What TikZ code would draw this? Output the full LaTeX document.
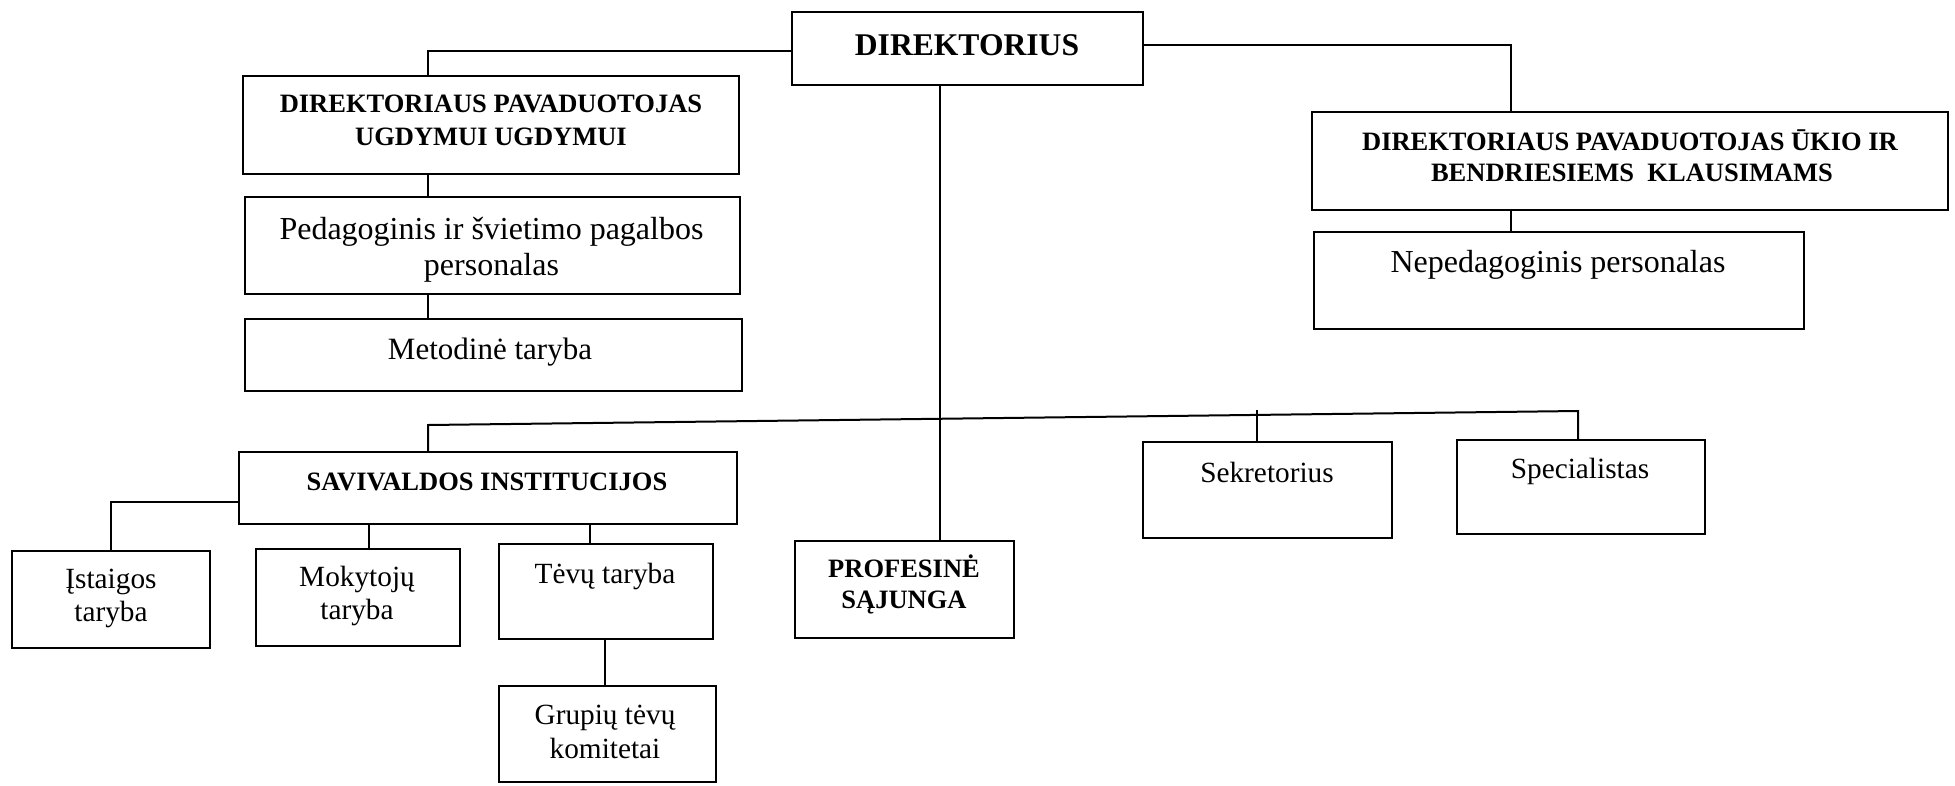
\documentclass[tikz,border=0pt]{standalone}
\usepackage{fontspec}
\setmainfont{Liberation Serif}
\tikzset{
  box/.style={draw, line width=2.2pt, inner sep=0pt, fill=none},
  link/.style={line width=2pt},
  bt/.style={anchor=base, inner sep=0pt, font=\fontsize{26.5pt}{30pt}\selectfont\bfseries},
  bigb/.style={anchor=base, inner sep=0pt, font=\fontsize{31.6pt}{36pt}\selectfont\bfseries},
  rt/.style={anchor=base, inner sep=0pt, font=\fontsize{32pt}{36pt}\selectfont},
  st/.style={anchor=base, inner sep=0pt, font=\fontsize{29.3pt}{33pt}\selectfont}
}
\begin{document}
\begin{tikzpicture}[x=1pt,y=-1pt]
\useasboundingbox (0,0) rectangle (1955,785);
\fill[white] (0,0) rectangle (1955,785);

% boxes
\node[box, minimum width=351pt, minimum height=73pt] (dir) at (967.5,48.5) {};
\node[box, minimum width=496pt, minimum height=98pt] (dpu) at (491,125) {};
\node[box, minimum width=495pt, minimum height=97pt] (ped) at (492.5,245.5) {};
\node[box, minimum width=497pt, minimum height=72pt] (met) at (493.5,355) {};
\node[box, minimum width=636pt, minimum height=98pt] (dpuk) at (1630,161) {};
\node[box, minimum width=490pt, minimum height=97pt] (nep) at (1559,280.5) {};
\node[box, minimum width=498pt, minimum height=72pt] (sav) at (488,488) {};
\node[box, minimum width=198pt, minimum height=97pt] (ist) at (111,599.5) {};
\node[box, minimum width=204pt, minimum height=97pt] (mok) at (358,597.5) {};
\node[box, minimum width=214pt, minimum height=95pt] (tev) at (606,591.5) {};
\node[box, minimum width=217pt, minimum height=96pt] (grp) at (607.5,734) {};
\node[box, minimum width=219pt, minimum height=97pt] (prof) at (904.5,589.5) {};
\node[box, minimum width=249pt, minimum height=96pt] (sek) at (1267.5,490) {};
\node[box, minimum width=248pt, minimum height=94pt] (spec) at (1581,487) {};

% texts
\node[bigb] (tdir) at (967,55) {DIREKTORIUS};
\node[bt] (tdpu1) at (491,112) {DIREKTORIAUS PAVADUOTOJAS};
\node[bt] (tdpu2) at (491,145) {UGDYMUI UGDYMUI};
\node[rt] (tped1) at (491.5,239) {Pedagoginis ir švietimo pagalbos};
\node[rt] (tped2) at (491.5,275) {personalas};
\node[rt, font=\fontsize{31pt}{34pt}\selectfont] (tmet) at (490,359) {Metodinė taryba};
\node[bt] (tdpuk1) at (1630,150) {DIREKTORIAUS PAVADUOTOJAS ŪKIO IR};
\node[bt] (tdpuk2) at (1632,181) {BENDRIESIEMS\ \ KLAUSIMAMS};
\node[rt] (tnep) at (1558,272) {Nepedagoginis personalas};
\node[bt] (tsav) at (487,490) {SAVIVALDOS INSTITUCIJOS};
\node[st] (tist1) at (111,588) {Įstaigos};
\node[st] (tist2) at (111,621) {taryba};
\node[st] (tmok1) at (357,586) {Mokytojų};
\node[st] (tmok2) at (357,619) {taryba};
\node[st] (ttev) at (605,583) {Tėvų taryba};
\node[st] (tgrp1) at (605,724) {Grupių tėvų};
\node[st] (tgrp2) at (605,758) {komitetai};
\node[bt] (tprof1) at (904,577) {PROFESINĖ};
\node[bt] (tprof2) at (904,608) {SĄJUNGA};
\node[st] (tsek) at (1267,482) {Sekretorius};
\node[st] (tspec) at (1580,478) {Specialistas};

% connector corner points
\coordinate (cL) at (428,51);
\coordinate (cR) at (1511,45);
\coordinate (busL) at (428,425);
\coordinate (busR) at (1578,411);
\coordinate (sekTop) at (1257,410);
\coordinate (istC) at (111,502);
\coordinate (mokX) at (369,0);
\coordinate (tevX) at (590,0);
\coordinate (grpX) at (605,0);
\coordinate (dirX) at (940,0);

% connectors
\draw[link] (dir.west |- cL) -- (cL) -- (cL |- dpu.north);
\draw[link] (dir.east |- cR) -- (cR) -- (cR |- dpuk.north);
\draw[link] (cL |- dpu.south) -- (cL |- ped.north);
\draw[link] (cL |- ped.south) -- (cL |- met.north);
\draw[link] (cR |- dpuk.south) -- (cR |- nep.north);
\draw[link] (dirX |- dir.south) -- (dirX |- prof.north);
\draw[link] (busL |- sav.north) -- (busL) -- (busR) -- (busR |- spec.north);
\draw[link] (sekTop) -- (sekTop |- sek.north);
\draw[link] (sav.west |- istC) -- (istC) -- (istC |- ist.north);
\draw[link] (mokX |- sav.south) -- (mokX |- mok.north);
\draw[link] (tevX |- sav.south) -- (tevX |- tev.north);
\draw[link] (grpX |- tev.south) -- (grpX |- grp.north);
\end{tikzpicture}
\end{document}
